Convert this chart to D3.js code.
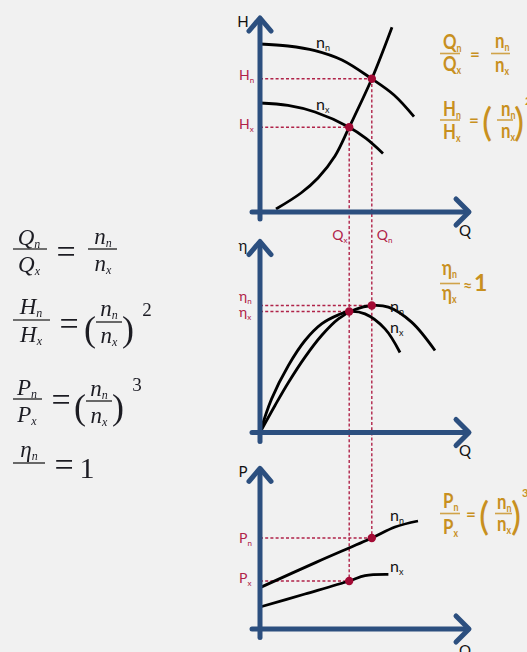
<!DOCTYPE html>
<html><head><meta charset="utf-8">
<script src="https://cdn.jsdelivr.net/npm/d3@7"></script>
<style>html,body{margin:0;padding:0;background:#f1f1f1;} svg{display:block}</style>
</head><body>
<script>
// ---------- data (schematic pump affinity laws) ----------
const qOperating = [4.46, 5.59];        // Q_x, Q_n
const headOperating = [4.24, 6.66];     // H_x, H_n
const effOperating = [6.05, 6.35];      // η_x, η_n
const powerOperating = [2.40, 4.55];    // P_x, P_n
const headCurveN = [[0,8.4],[1.4,8.3],[2.75,8.07],[4.1,7.6],[5.59,6.66],[6.7,5.85],[7.7,4.77]];
const headCurveX = [[0,5.45],[1.4,5.33],[2.75,5.0],[4.46,4.24],[5.3,3.68],[6.15,2.93]];
const systemCurve = [[0.8,0.15],[2.05,0.95],[2.9,1.7],[3.75,2.8],[4.46,4.24],[5.59,6.66],[6.6,9.24]];
const effCurveX = [[0,0],[0.58,1.68],[1.42,3.35],[2.25,4.6],[3.08,5.43],[3.92,5.88],[4.46,6.05],[5.25,5.93],[6.25,5.18],[7.0,4.0]];
const effCurveN = [[0,0],[0.75,1.35],[1.42,2.5],[2.25,3.77],[3.08,4.85],[3.92,5.68],[4.75,6.15],[5.59,6.35],[6.42,6.27],[7.58,5.52],[8.75,4.1]];
const powerCurveN = [[0,2.07],[2.8,3.33],[5.59,4.55],[6.75,5.1],[7.9,5.4]];
const powerCurveX = [[0,1.1],[2.25,1.75],[4.46,2.4],[5.25,2.67],[6.42,2.73]];
const axisTitles = ["H", "η", "P"];
const qTitle = "Q";
const opSubs = ["x", "n"];
const curveSubs = ["n", "x"];

// ---------- styles ----------
const BG = "#f1f1f1", AXIS = "#2c4f7f", RED = "#b02248", DOT = "#a30b35", GOLD = "#c8901f";
const SANS = "Lato, 'Open Sans', sans-serif";
const SERIF = "'Liberation Serif', 'DejaVu Serif', serif";

const svg = d3.select("body").append("svg").attr("width", 527).attr("height", 652);
svg.append("rect").attr("width", 527).attr("height", 652).attr("fill", BG);

const x = d3.scaleLinear([0, 10], [260, 460]);
const yH = d3.scaleLinear([0, 10], [212, 12]);
const yE = d3.scaleLinear([0, 10], [432.5, 232.5]);
const yP = d3.scaleLinear([0, 10], [629, 429]);

const panels = [
  {y: yH, title: axisTitles[0], tip: 9.7, bottom: -0.35, titleY: 27, qY: 236,
   curves: [headCurveN, headCurveX, systemCurve], ops: headOperating,
   curveLabels: [[316, 48], [316, 110]], opLabelY: [128.5, 80]},
  {y: yE, title: axisTitles[1], tip: 9.55, bottom: -0.45, titleY: 251, qY: 456,
   curves: [effCurveN, effCurveX], ops: effOperating,
   curveLabels: [[390, 312], [390, 333]], opLabelY: [316.5, 301]},
  {y: yP, title: axisTitles[2], tip: 8.03, bottom: -0.43, titleY: 477, qY: 656,
   curves: [powerCurveN, powerCurveX], ops: powerOperating,
   curveLabels: [[390, 521], [390, 572]], opLabelY: [583, 543]}
];

function sub(g, x0, y0, main, s, o) {
  const t = g.append("text").attr("x", x0).attr("y", y0)
    .attr("font-family", o.family).attr("font-size", o.size).attr("fill", o.color)
    .attr("font-weight", o.weight || "normal").attr("font-style", o.style || "normal")
    .attr("text-anchor", o.anchor || "start");
  t.append("tspan").text(main);
  if (s) t.append("tspan").attr("font-size", o.subSize).attr("dy", o.subDy).attr("font-style", o.subStyle || o.style || "normal").text(s);
  if (o.sx) t.attr("transform", `translate(${x0},${y0}) scale(${o.sx},1) translate(${-x0},${-y0})`);
  return t;
}

const dashes = svg.append("g");
const marks = svg.append("g");
const axes = svg.append("g");
const texts = svg.append("g");

const line = (ys) => d3.line().x(d => x(d[0])).y(d => ys(d[1])).curve(d3.curveCatmullRom.alpha(0.5));

// dashed guides
qOperating.forEach((q, i) => {
  dashes.append("line").attr("x1", x(q)).attr("x2", x(q))
    .attr("y1", yH(headOperating[i])).attr("y2", yP(powerOperating[i]));
});
panels.forEach(p => {
  p.ops.forEach((v, i) => {
    dashes.append("line").attr("x1", x(0)).attr("x2", x(qOperating[i]))
      .attr("y1", p.y(v)).attr("y2", p.y(v));
  });
});
dashes.selectAll("line").attr("stroke", RED).attr("stroke-width", 1.4).attr("stroke-dasharray", "3,2.2");

panels.forEach(p => {
  p.curves.forEach(c => {
    marks.append("path").attr("d", line(p.y)(c)).attr("fill", "none")
      .attr("stroke", "#000").attr("stroke-width", 2.8).attr("stroke-linecap", "butt");
  });
  const ox = x(0), oy = p.y(0), tipY = p.y(p.tip), tipX = x(10.45);
  axes.append("line").attr("x1", ox).attr("x2", ox).attr("y1", p.y(p.bottom)).attr("y2", tipY + 1);
  axes.append("line").attr("x1", x(-0.4)).attr("x2", tipX - 1).attr("y1", oy).attr("y2", oy);
  axes.append("path").attr("d", `M${ox - 11},${tipY + 13}L${ox},${tipY}L${ox + 11},${tipY + 13}`).attr("fill", "none");
  axes.append("path").attr("d", `M${tipX - 13},${oy - 13}L${tipX},${oy}L${tipX - 13},${oy + 13}`).attr("fill", "none");
  p.ops.forEach((v, i) => {
    marks.append("circle").attr("cx", x(qOperating[i])).attr("cy", p.y(v)).attr("r", 4.2).attr("fill", DOT);
  });
  texts.append("text").attr("x", 243).attr("y", p.titleY).attr("text-anchor", "middle")
    .attr("font-family", SANS).attr("font-size", 15).attr("fill", "#111").text(p.title);
  texts.append("text").attr("x", 465).attr("y", p.qY).attr("text-anchor", "middle")
    .attr("font-family", SANS).attr("font-size", 15).attr("fill", "#111").text(qTitle);
  p.curveLabels.forEach((pos, i) => {
    sub(texts, pos[0], pos[1], "n", curveSubs[i], {family: SANS, size: 16, subSize: 9, subDy: 3, color: "#111"});
  });
  p.ops.forEach((v, i) => {
    sub(texts, 239, p.opLabelY[i], p.title, opSubs[i], {family: SANS, size: 14, subSize: 8, subDy: 3, color: RED});
  });
});
axes.selectAll("line,path").attr("stroke", AXIS).attr("stroke-width", 5).attr("stroke-linecap", "round").attr("stroke-linejoin", "round");

qOperating.forEach((q, i) => {
  sub(texts, x(q) + (i === 0 ? -17 : 5), 240, qTitle, opSubs[i], {family: SANS, size: 14, subSize: 8, subDy: 3, color: RED});
});

// ---------- left formulas (serif) ----------
const defs = svg.append("defs");
defs.append("filter").attr("id", "blur").append("feGaussianBlur").attr("stdDeviation", 0.45);
const L = svg.append("g").attr("filter", "url(#blur)");
const lo = {family: SERIF, size: 23, subSize: 12, subDy: 3, color: "#1c1c24", style: "italic", anchor: "middle"};
const lbar = (x1, x2, yb) => L.append("line").attr("x1", x1).attr("x2", x2).attr("y1", yb).attr("y2", yb).attr("stroke", "#444").attr("stroke-width", 1.6);
const lplain = (x0, y0, t, s, anchor) => L.append("text").attr("x", x0).attr("y", y0).attr("text-anchor", anchor || "middle")
  .attr("font-family", SERIF).attr("font-size", s).attr("fill", "#1c1c24").text(t);
const leftMain = ["Q", "H", "P", "η"];
const leftRatio = "n";
lbar(13, 47, 249); sub(L, 29, 245, leftMain[0], "n", lo); sub(L, 29, 272, leftMain[0], "x", lo);
lplain(66, 263, "=", 34);
lbar(88, 117, 249); sub(L, 103, 244, leftRatio, "n", lo); sub(L, 103, 271, leftRatio, "x", lo);
lbar(13, 50, 320); sub(L, 31, 314, leftMain[1], "n", lo); sub(L, 31, 342, leftMain[1], "x", lo);
lplain(69, 335, "=", 34);
lplain(90, 341, "(", 36);
lbar(96, 122, 322); sub(L, 109, 316, leftRatio, "n", lo); sub(L, 109, 343, leftRatio, "x", lo);
lplain(128, 341, ")", 36);
lplain(147, 316, "2", 19);
lbar(13, 42, 399); sub(L, 27, 395, leftMain[2], "n", lo); sub(L, 27, 422, leftMain[2], "x", lo);
lplain(61, 411, "=", 34);
lplain(80, 419, "(", 36);
lbar(86, 112, 401); sub(L, 99, 396, leftRatio, "n", lo); sub(L, 99, 423, leftRatio, "x", lo);
lplain(118, 419, ")", 36);
lplain(137, 391, "3", 19);
lbar(13, 45, 463); sub(L, 29, 457, leftMain[3], "n", lo);
lplain(64, 476, "=", 34);
lplain(87, 478, "1", 30);

// ---------- right formulas (gold) ----------
const R = svg.append("g");
const ro = {family: SANS, size: 21, subSize: 11, subDy: 3, color: GOLD, weight: "bold", sx: 0.8};
const rbar = (x1, x2, yb) => R.append("line").attr("x1", x1).attr("x2", x2).attr("y1", yb).attr("y2", yb).attr("stroke", GOLD).attr("stroke-opacity", 0.8).attr("stroke-width", 1.6);
const rplain = (x0, y0, t, s, w) => R.append("text").attr("x", x0).attr("y", y0)
  .attr("font-family", SANS).attr("font-size", s).attr("font-weight", w || "bold").attr("fill", GOLD).text(t);
const rightMain = ["Q", "H", "η", "P"];
rbar(440, 460, 53.5); sub(R, 443, 49, rightMain[0], "n", ro); sub(R, 443, 71, rightMain[0], "x", ro);
rplain(470, 60, "=", 17);
rbar(491, 510, 53.5); sub(R, 495, 48, "n", "n", ro); sub(R, 495, 72, "n", "x", ro);
rbar(440, 460, 120); sub(R, 443, 116, rightMain[1], "n", ro); sub(R, 443, 139, rightMain[1], "x", ro);
rplain(469, 126, "=", 17);
rplain(482, 136, "(", 38, "normal");
rbar(497, 513, 120); sub(R, 501, 116, "n", "n", ro); sub(R, 501, 138, "n", "x", ro);
rplain(514, 136, ")", 38, "normal");
rplain(525, 105, "2", 11);
rbar(440, 460, 283.5); sub(R, 442, 275, rightMain[2], "n", ro); sub(R, 442, 300, rightMain[2], "x", ro);
rplain(463, 291, "≈", 16);
rplain(474, 291, "1", 23);
rbar(440, 460, 513.5); sub(R, 443, 508, rightMain[3], "n", ro); sub(R, 443, 534, rightMain[3], "x", ro);
rplain(466, 520, "=", 17);
rplain(479, 530, "(", 38, "normal");
rbar(495, 512, 513.5); sub(R, 497, 509, "n", "n", ro); sub(R, 497, 531, "n", "x", ro);
rplain(511, 530, ")", 38, "normal");
rplain(522, 497, "3", 11);
</script>
</body></html>
